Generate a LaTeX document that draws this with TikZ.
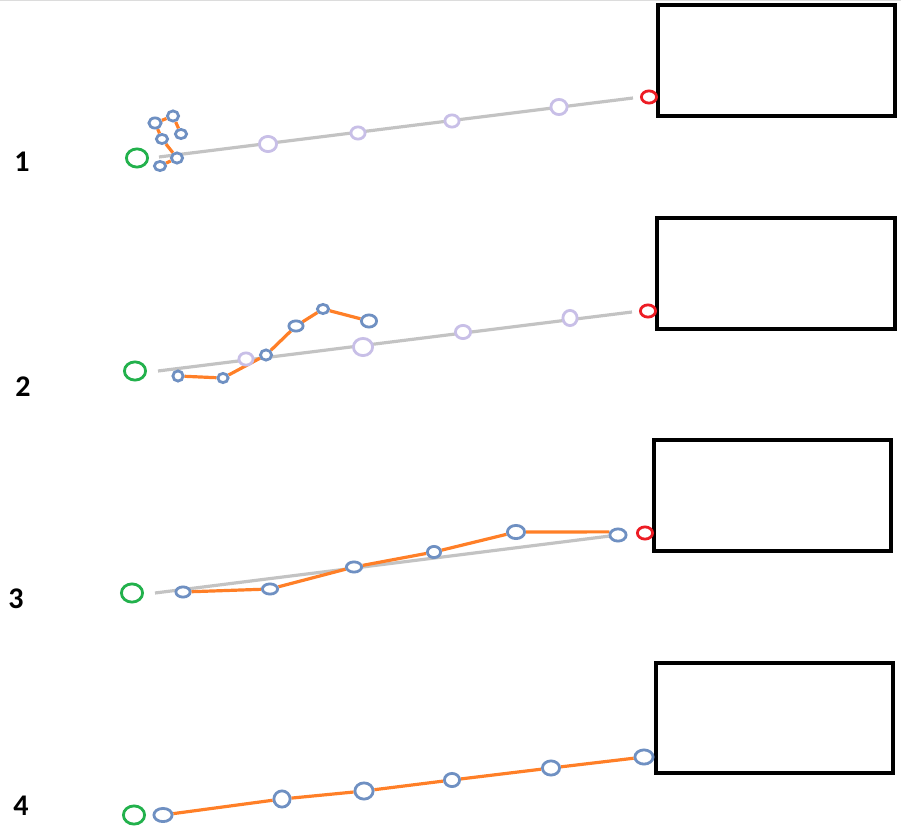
\documentclass[tikz,border=0pt]{standalone}
\usepackage{fontspec}
\setmainfont{Carlito}
\usetikzlibrary{shapes.geometric,backgrounds}
\definecolor{cgreen}{HTML}{22B14C}
\definecolor{cblue}{HTML}{6F90C2}
\definecolor{clav}{HTML}{C8BFE7}
\definecolor{cred}{HTML}{ED1C24}
\definecolor{corange}{HTML}{FF7F27}
\definecolor{cgray}{HTML}{C3C3C3}
\definecolor{ctop}{HTML}{DCDCDC}
\tikzset{
  ring/.style n args={3}{ellipse, draw=#1, fill=white, line width=2.8pt, inner sep=0pt,
    minimum width=#2 pt-2.8pt, minimum height=#3 pt-2.8pt},
  gn/.style={ring={cgreen}{24}{21}},
  rd/.style={ring={cred}{18}{15}},
  bl/.style 2 args={ring={cblue}{#1}{#2}},
  lv/.style 2 args={ring={clav}{#1}{#2}},
  graypath/.style={draw=cgray, line width=3.2pt},
  orpath/.style={draw=corange, line width=3.2pt},
  panelbox/.style={draw=black, line width=3.6pt, fill=none},
  num/.style={font=\bfseries\fontsize{30}{30}\selectfont, inner sep=0pt},
}
\begin{document}
\begin{tikzpicture}[x=1pt,y=-1pt]
\useasboundingbox (0,0) rectangle (901,829);
\draw[ctop, line width=1.5pt] (0,0.75) -- (901,0.75);

% labels
\node[num] (n1) at (22,162) {1};
\node[num] (n2) at (23,387) {2};
\node[num] (n3) at (16,599) {3};
\node[num] (n4) at (21,806) {4};

% boxes
\draw[panelbox] (658,5) rectangle (895,116);
\draw[panelbox] (657,218) rectangle (895,329);
\draw[panelbox] (654,440) rectangle (891,551);
\draw[panelbox] (656,663) rectangle (893,773);

% ---------- panel 1 ----------
\node[gn] (g1) at (137,158) {};
\node[rd] (r1) at (649,97) {};
\coordinate (s1) at (159,157);
\coordinate (e1) at (633,98);
\node[lv={20}{18}] (l1a) at (268,144) {};
\node[lv={17}{15}] (l1b) at (358,133) {};
\node[lv={17}{15}] (l1c) at (452,121) {};
\node[lv={19}{18}] (l1d) at (559,107) {};
\node[bl={15}{13}] (b1a) at (155,123) {};
\node[bl={14}{13}] (b1b) at (173,116) {};
\node[bl={14}{12}] (b1c) at (181,134) {};
\node[bl={14}{12}] (b1d) at (162,139) {};
\node[bl={14}{13}] (b1e) at (177,158) {};
\node[bl={14}{12}] (b1f) at (160,166) {};

% ---------- panel 2 ----------
\node[gn] (g2) at (135,371) {};
\node[rd] (r2) at (648,311) {};
\coordinate (s2) at (158,371);
\coordinate (e2) at (632,312);
\node[lv={17}{15}] (l2a) at (246,359) {};
\node[lv={22}{20}] (l2b) at (363,347) {};
\node[lv={18}{16}] (l2c) at (463,332) {};
\node[lv={17}{18}] (l2d) at (570,318) {};
\node[bl={13}{13}] (b2a) at (178,376) {};
\node[bl={13}{12}] (b2b) at (223,378) {};
\node[bl={14}{13}] (b2c) at (266,355) {};
\node[bl={17}{13}] (b2d) at (296,326) {};
\node[bl={14}{12}] (b2e) at (323,309) {};
\node[bl={18}{15}] (b2f) at (369,321) {};

% ---------- panel 3 ----------
\node[gn] (g3) at (132,593) {};
\node[rd] (r3) at (645,533) {};
\coordinate (s3) at (155,593);
\node[bl={17}{13}] (b3a) at (183,592) {};
\node[bl={18}{13}] (b3b) at (270,589) {};
\node[bl={18}{13}] (b3c) at (354,567) {};
\node[bl={16}{14}] (b3d) at (434,552) {};
\node[bl={20}{16}] (b3e) at (516,532) {};
\node[bl={19}{15}] (b3f) at (618,535) {};

% ---------- panel 4 ----------
\node[gn] (g4) at (134,815) {};
\node[bl={21}{16}] (b4a) at (163,815) {};
\node[bl={19}{19}] (b4b) at (282,799) {};
\node[bl={21}{19}] (b4c) at (364,791) {};
\node[bl={18}{16}] (b4d) at (452,780) {};
\node[bl={20}{17}] (b4e) at (551,768) {};
\node[bl={21}{17}] (b4f) at (644,757) {};

\begin{pgfonlayer}{background}
\draw[graypath] (s1) -- (e1);
\draw[orpath] (b1c) -- (b1b) -- (b1a) -- (b1d) -- (b1e) -- (b1f);
\draw[graypath] (s2) -- (e2);
\draw[orpath] (b2a) -- (b2b) -- (b2c) -- (b2d) -- (b2e) -- (b2f);
\draw[graypath] (s3) -- (b3f);
\draw[orpath] (b3a) -- (b3b) -- (b3c) -- (b3d) -- (b3e) -- (b3f.160);
\draw[orpath] (b4a) -- (b4b) -- (b4c) -- (b4d) -- (b4e) -- (b4f);
\end{pgfonlayer}
\end{tikzpicture}
\end{document}
